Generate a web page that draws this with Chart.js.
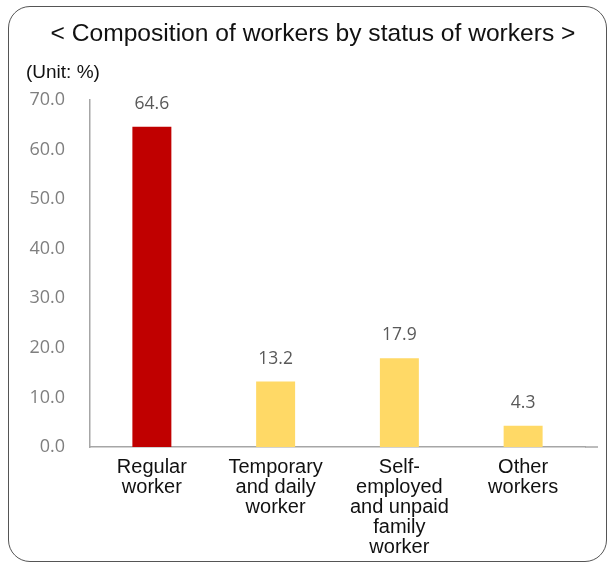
<!DOCTYPE html>
<html>
<head>
<meta charset="utf-8">
<script src="https://cdn.jsdelivr.net/npm/chart.js@4"></script>
<style>
  html, body { margin: 0; padding: 0; background: #fff; }
  #wrap { position: relative; width: 610px; height: 565px; }
  #frame {
    position: absolute; left: 8px; top: 6px; width: 597px; height: 554px;
    border: 1.5px solid #555; border-radius: 22px; pointer-events: none;
  }
</style>
</head>
<body>
<div id="wrap">
  <canvas id="workersChart"></canvas>
  <div id="frame"></div>
</div>
<script>
const chartTitle = '< Composition of workers by status of workers >';
const unitLabel = '(Unit: %)';
const categories = [
  ['Regular', 'worker'],
  ['Temporary', 'and daily', 'worker'],
  ['Self-', 'employed', 'and unpaid', 'family', 'worker'],
  ['Other', 'workers']
];
const shares = [64.6, 13.2, 17.9, 4.3];
const barColors = ['#C00000', '#FFD966', '#FFD966', '#FFD966'];
const yTicks = [0, 10, 20, 30, 40, 50, 60, 70];

const AXIS_COLOR = '#a6a6a6';

// title + unit text, value labels over the bars
const decorations = {
  id: 'decorations',
  afterDatasetsDraw(chart) {
    const { ctx, chartArea } = chart;
    ctx.save();
    ctx.fillStyle = '#111';
    ctx.textAlign = 'center';
    ctx.textBaseline = 'middle';
    ctx.font = '24.6px "Liberation Sans", Arial, sans-serif';
    ctx.fillText(chartTitle, 313, 34);

    ctx.textAlign = 'left';
    ctx.font = '19px "Liberation Sans", Arial, sans-serif';
    ctx.fillText(unitLabel, 26, 73);

    // axis line runs a bit past the last category
    ctx.strokeStyle = AXIS_COLOR;
    ctx.lineWidth = 1.5;
    ctx.beginPath();
    ctx.moveTo(chartArea.right, chartArea.bottom);
    ctx.lineTo(598, chartArea.bottom);
    ctx.stroke();

    ctx.textAlign = 'center';
    ctx.fillStyle = '#595959';
    ctx.font = '17.5px "Open Sans", sans-serif';
    chart.getDatasetMeta(0).data.forEach((bar, i) => {
      ctx.fillText(shares[i].toFixed(1), bar.x, bar.y - 23);
    });
    ctx.restore();
  }
};

new Chart(document.getElementById('workersChart'), {
  type: 'bar',
  data: {
    labels: categories,
    datasets: [{
      data: shares,
      backgroundColor: barColors,
      borderWidth: 0,
      barPercentage: 0.315,
      categoryPercentage: 1
    }]
  },
  options: {
    responsive: true,
    maintainAspectRatio: false,
    animation: false,
    layout: { padding: { top: 100, right: 25, bottom: 0, left: 0 } },
    plugins: {
      legend: { display: false },
      tooltip: { enabled: false }
    },
    scales: {
      x: {
        grid: { display: false, drawTicks: false },
        border: { display: true, color: AXIS_COLOR, width: 1.5 },
        ticks: {
          color: '#111',
          padding: 10,
          maxRotation: 0,
          autoSkip: false,
          font: { family: '"Liberation Sans", Arial, sans-serif', size: 20, lineHeight: 1.0 }
        },
        afterFit(scale) { scale.height = 118; }
      },
      y: {
        min: 0,
        max: 70,
        afterBuildTicks(scale) { scale.ticks = yTicks.map(v => ({ value: v })); },
        grid: { display: false, drawTicks: false },
        border: { display: true, color: AXIS_COLOR, width: 1.5 },
        ticks: {
          color: '#7f7f7f',
          padding: 25,
          font: { family: '"Open Sans", sans-serif', size: 18 },
          callback: v => v.toFixed(1)
        },
        afterFit(scale) { scale.width = 90; }
      }
    }
  },
  plugins: [decorations]
});
</script>
</body>
</html>
